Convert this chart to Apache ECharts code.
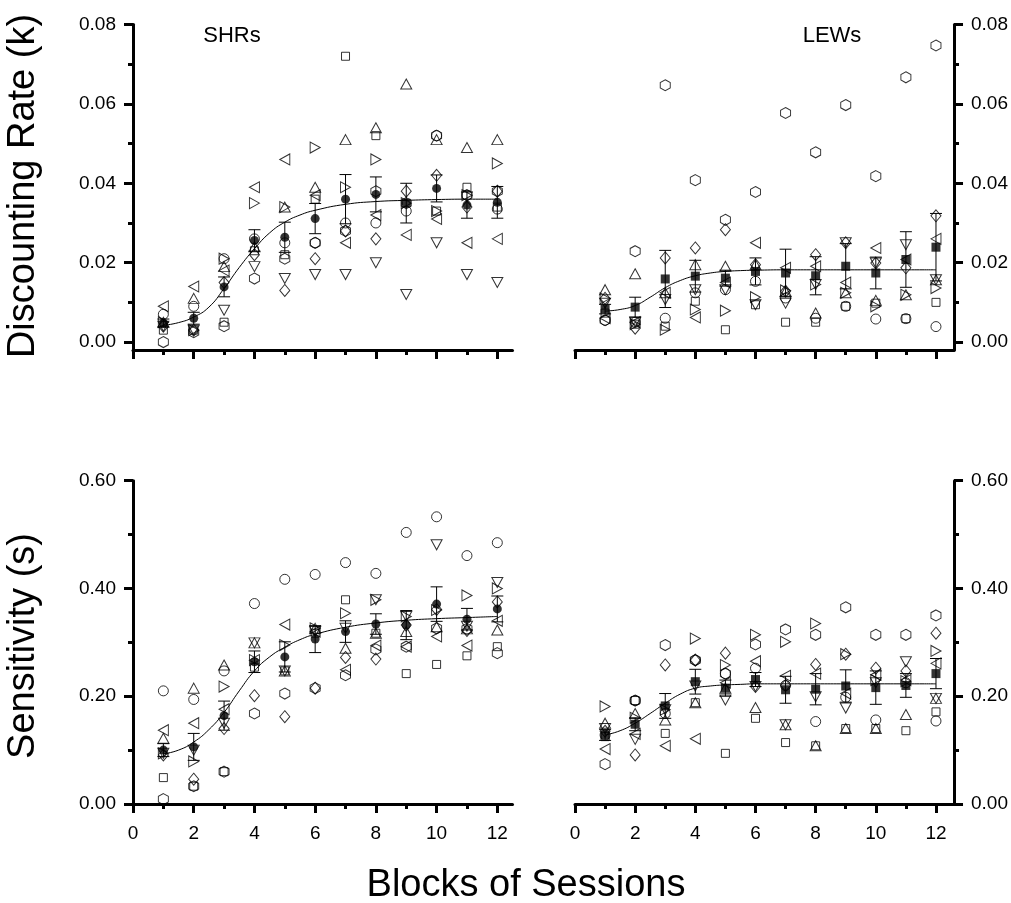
<!DOCTYPE html>
<html>
<head>
<meta charset="utf-8">
<script src="https://cdn.jsdelivr.net/npm/echarts@6/dist/echarts.min.js"></script>
<style>
  html, body { margin: 0; padding: 0; background: #fff; }
  #chart { width: 1011px; height: 903px; }
</style>
</head>
<body>
<div id="chart"></div>
<script>
const BLOCKS = [1, 2, 3, 4, 5, 6, 7, 8, 9, 10, 11, 12];
const FIT_X = [1, 1.5, 2, 2.5, 3, 3.5, 4, 4.5, 5, 5.5, 6, 7, 8, 9, 10, 11, 12];

// one row per rat, symbol order: circle, square, up, down, diamond, left, right, hexagon
const SHR_K_RATS = [
  [0.007, 0.009, 0.021, 0.026, 0.025, 0.025, 0.030, 0.030, 0.033, 0.052, 0.037, 0.0335],
  [0.003, 0.003, 0.005, 0.023, 0.022, 0.036, 0.072, 0.052, 0.035, 0.033, 0.039, 0.034],
  [0.005, 0.011, 0.019, 0.024, 0.034, 0.039, 0.051, 0.054, 0.065, 0.051, 0.049, 0.051],
  [0.004, 0.003, 0.008, 0.019, 0.016, 0.017, 0.017, 0.020, 0.012, 0.025, 0.017, 0.015],
  [0.004, 0.003, 0.015, 0.022, 0.013, 0.021, 0.028, 0.026, 0.038, 0.042, 0.034, 0.038],
  [0.009, 0.014, 0.018, 0.039, 0.046, 0.037, 0.025, 0.032, 0.027, 0.031, 0.025, 0.026],
  [0.005, 0.003, 0.021, 0.035, 0.034, 0.049, 0.039, 0.046, 0.035, 0.033, 0.037, 0.045],
  [0.000, 0.0025, 0.004, 0.016, 0.021, 0.025, 0.028, 0.038, 0.035, 0.052, 0.037, 0.038]
];
const SHR_K_MEAN = [0.0048, 0.006, 0.0139, 0.0256, 0.0264, 0.0311, 0.036, 0.0372, 0.035, 0.0387, 0.0345, 0.0352];
const SHR_K_SEM = [0.001, 0.0015, 0.0025, 0.0027, 0.0038, 0.0038, 0.0062, 0.0044, 0.005, 0.0034, 0.0033, 0.004];
const SHR_K_FIT = [0.0042, 0.0049, 0.0063, 0.0088, 0.0135, 0.0188, 0.0235, 0.0275, 0.0302, 0.032, 0.0332, 0.0347, 0.0354, 0.0357, 0.0359, 0.036, 0.036];

const LEW_K_RATS = [
  [0.0055, 0.005, 0.006, 0.0124, 0.0132, 0.0153, 0.0111, 0.006, 0.009, 0.0058, 0.0059, 0.0039],
  [0.0073, 0.0045, 0.004, 0.0103, 0.0031, 0.0094, 0.005, 0.005, 0.009, 0.0098, 0.0059, 0.010],
  [0.0132, 0.0172, 0.0124, 0.0195, 0.0191, 0.0195, 0.0128, 0.0073, 0.0124, 0.0105, 0.0119, 0.0157],
  [0.0098, 0.005, 0.0107, 0.0132, 0.0132, 0.0094, 0.0098, 0.0145, 0.025, 0.0199, 0.0245, 0.0157],
  [0.011, 0.0035, 0.0212, 0.0237, 0.0283, 0.0195, 0.0128, 0.022, 0.025, 0.0199, 0.0187, 0.0318],
  [0.006, 0.005, 0.0124, 0.0062, 0.015, 0.025, 0.0187, 0.0191, 0.015, 0.0237, 0.0208, 0.026],
  [0.011, 0.0045, 0.0031, 0.0082, 0.0079, 0.0113, 0.013, 0.0145, 0.0124, 0.009, 0.0119, 0.0136],
  [0.0055, 0.0229, 0.0647, 0.0408, 0.0308, 0.0378, 0.0577, 0.0478, 0.0597, 0.0418, 0.0667, 0.0747]
];
const LEW_K_MEAN = [0.0083, 0.0088, 0.0159, 0.0166, 0.0161, 0.0178, 0.0174, 0.0167, 0.0191, 0.0174, 0.0208, 0.0239];
const LEW_K_SEM = [0.0012, 0.0025, 0.0072, 0.004, 0.002, 0.0034, 0.006, 0.0048, 0.0057, 0.004, 0.007, 0.0085];
const LEW_K_FIT = [0.0078, 0.0082, 0.0092, 0.0113, 0.0137, 0.0155, 0.0167, 0.0174, 0.0178, 0.018, 0.0181, 0.0182, 0.0182, 0.0182, 0.0182, 0.0182, 0.0182];

const SHR_S_RATS = [
  [0.210, 0.194, 0.247, 0.372, 0.417, 0.426, 0.448, 0.428, 0.504, 0.533, 0.461, 0.485],
  [0.049, 0.033, 0.060, 0.254, 0.247, 0.317, 0.379, 0.317, 0.242, 0.259, 0.275, 0.292],
  [0.122, 0.215, 0.258, 0.299, 0.247, 0.326, 0.289, 0.317, 0.320, 0.329, 0.325, 0.323],
  [0.094, 0.100, 0.150, 0.299, 0.247, 0.320, 0.326, 0.379, 0.348, 0.481, 0.330, 0.411],
  [0.091, 0.046, 0.140, 0.201, 0.162, 0.215, 0.272, 0.269, 0.332, 0.361, 0.322, 0.375],
  [0.137, 0.150, 0.176, 0.267, 0.333, 0.320, 0.249, 0.294, 0.292, 0.311, 0.294, 0.340],
  [0.094, 0.079, 0.218, 0.267, 0.295, 0.326, 0.354, 0.379, 0.348, 0.360, 0.387, 0.400],
  [0.009, 0.033, 0.060, 0.168, 0.205, 0.215, 0.239, 0.287, 0.292, 0.326, 0.325, 0.280]
];
const SHR_S_MEAN = [0.100, 0.106, 0.164, 0.264, 0.273, 0.306, 0.320, 0.334, 0.332, 0.371, 0.343, 0.362];
const SHR_S_SEM = [0.012, 0.025, 0.027, 0.020, 0.028, 0.025, 0.020, 0.019, 0.027, 0.032, 0.020, 0.024];
const SHR_S_FIT = [0.093, 0.100, 0.115, 0.138, 0.170, 0.210, 0.247, 0.273, 0.291, 0.305, 0.315, 0.328, 0.336, 0.341, 0.344, 0.346, 0.348];

const LEW_S_RATS = [
  [0.128, 0.192, 0.168, 0.267, 0.242, 0.252, 0.220, 0.153, 0.198, 0.156, 0.225, 0.154],
  [0.125, 0.192, 0.131, 0.188, 0.094, 0.159, 0.114, 0.108, 0.140, 0.140, 0.136, 0.171],
  [0.150, 0.168, 0.156, 0.188, 0.215, 0.179, 0.147, 0.108, 0.140, 0.140, 0.166, 0.196],
  [0.140, 0.120, 0.175, 0.219, 0.193, 0.218, 0.147, 0.199, 0.178, 0.225, 0.264, 0.196],
  [0.135, 0.091, 0.258, 0.267, 0.280, 0.218, 0.220, 0.259, 0.278, 0.252, 0.247, 0.317],
  [0.102, 0.130, 0.108, 0.121, 0.225, 0.265, 0.238, 0.242, 0.205, 0.240, 0.230, 0.261],
  [0.181, 0.160, 0.175, 0.307, 0.258, 0.314, 0.301, 0.335, 0.278, 0.230, 0.228, 0.284],
  [0.074, 0.192, 0.295, 0.267, 0.242, 0.296, 0.324, 0.314, 0.365, 0.314, 0.314, 0.350]
];
const LEW_S_MEAN = [0.128, 0.148, 0.182, 0.227, 0.215, 0.231, 0.212, 0.213, 0.219, 0.216, 0.220, 0.242];
const LEW_S_SEM = [0.010, 0.012, 0.023, 0.023, 0.015, 0.013, 0.025, 0.029, 0.030, 0.031, 0.022, 0.028];
const LEW_S_FIT = [0.128, 0.136, 0.150, 0.168, 0.187, 0.204, 0.215, 0.219, 0.221, 0.222, 0.223, 0.223, 0.223, 0.223, 0.223, 0.223, 0.223];

const X_MAJOR = [0, 2, 4, 6, 8, 10, 12];
const X_MINOR = [1, 3, 5, 7, 9, 11];
const K_MAJOR = [0, 0.02, 0.04, 0.06, 0.08];
const K_MINOR = [0.01, 0.03, 0.05, 0.07];
const S_MAJOR = [0, 0.2, 0.4, 0.6];
const S_MINOR = [0.1, 0.3, 0.5];

const FONT = 'Liberation Sans, Arial, sans-serif';
const HEX = 'path://M5 0L10 2.89L10 8.66L5 11.55L0 8.66L0 2.89Z';
const RAT_SYMBOLS = [
  { symbol: 'circle', size: 10, rotate: 0 },
  { symbol: 'rect', size: 8, rotate: 0 },
  { symbol: 'triangle', size: [11, 10], rotate: 0 },
  { symbol: 'triangle', size: [11, 10], rotate: 180 },
  { symbol: 'diamond', size: [10, 12], rotate: 0 },
  { symbol: 'triangle', size: [11, 10], rotate: 90 },
  { symbol: 'triangle', size: [11, 10], rotate: -90 },
  { symbol: HEX, size: [10, 11], rotate: 0 }
];

const chart = echarts.init(document.getElementById('chart'));

const grids = [
  { left: 133, top: 24.5, width: 379.5, height: 325.5 },
  { left: 575, top: 24.5, width: 380, height: 325.5 },
  { left: 133, top: 480.7, width: 379.5, height: 323.3 },
  { left: 575, top: 480.7, width: 380, height: 323.3 }
];

const axisLine = { show: true, onZero: false, lineStyle: { color: '#000', width: 3 } };
const noLine = { show: false, onZero: false };
const labelStyle = { color: '#000', fontSize: 19, fontFamily: FONT };

const xAxes = [];
const yAxes = [];
function addAxes(grid, xMax, showXLabels, yMin, yMax, major, minor, side) {
  xAxes.push({
    type: 'value', gridIndex: grid, min: 0, max: xMax, position: 'bottom',
    axisLine: axisLine,
    axisTick: { customValues: X_MAJOR, length: 9, lineStyle: { width: 3, color: '#000' } },
    axisLabel: Object.assign({ show: showXLabels, customValues: X_MAJOR, margin: 20 }, labelStyle),
    splitLine: { show: false }
  });
  xAxes.push({
    type: 'value', gridIndex: grid, min: 0, max: xMax, position: 'bottom',
    axisLine: noLine,
    axisTick: { customValues: X_MINOR, length: 5, lineStyle: { width: 3, color: '#000' } },
    axisLabel: { show: false },
    splitLine: { show: false }
  });
  yAxes.push({
    type: 'value', gridIndex: grid, min: yMin, max: yMax, position: side,
    axisLine: axisLine,
    axisTick: { customValues: major, length: 9, lineStyle: { width: 3, color: '#000' } },
    axisLabel: Object.assign({ customValues: major, margin: 17, formatter: v => v.toFixed(2) }, labelStyle),
    splitLine: { show: false }
  });
  yAxes.push({
    type: 'value', gridIndex: grid, min: yMin, max: yMax, position: side,
    axisLine: noLine,
    axisTick: { customValues: minor, length: 5, lineStyle: { width: 3, color: '#000' } },
    axisLabel: { show: false },
    splitLine: { show: false }
  });
}
addAxes(0, 12.5, false, -0.002, 0.08, K_MAJOR, K_MINOR, 'left');
addAxes(1, 12.6, false, -0.002, 0.08, K_MAJOR, K_MINOR, 'right');
addAxes(2, 12.5, true, 0, 0.6, S_MAJOR, S_MINOR, 'left');
addAxes(3, 12.6, true, 0, 0.6, S_MAJOR, S_MINOR, 'right');

function errorBars(panel, mean, sem) {
  return {
    type: 'custom', xAxisIndex: panel * 2, yAxisIndex: panel * 2, z: 4,
    data: BLOCKS.map((b, i) => [b, mean[i], sem[i]]),
    renderItem: (params, api) => {
      const x = api.value(0), m = api.value(1), e = api.value(2);
      const top = api.coord([x, m + e]);
      const bot = api.coord([x, m - e]);
      const st = { stroke: '#000', lineWidth: 1 };
      const h = 6;
      return {
        type: 'group',
        children: [
          { type: 'line', shape: { x1: top[0], y1: top[1], x2: bot[0], y2: bot[1] }, style: st },
          { type: 'line', shape: { x1: top[0] - h, y1: top[1], x2: top[0] + h, y2: top[1] }, style: st },
          { type: 'line', shape: { x1: bot[0] - h, y1: bot[1], x2: bot[0] + h, y2: bot[1] }, style: st }
        ]
      };
    }
  };
}

function panelSeries(panel, rats, mean, sem, fit, meanSymbol) {
  const out = rats.map((vals, r) => ({
    type: 'scatter', xAxisIndex: panel * 2, yAxisIndex: panel * 2, z: 2,
    symbol: RAT_SYMBOLS[r].symbol,
    symbolSize: RAT_SYMBOLS[r].size,
    symbolRotate: RAT_SYMBOLS[r].rotate,
    itemStyle: { color: 'rgba(0,0,0,0)', borderColor: '#000', borderWidth: 1 },
    emphasis: { disabled: true },
    data: BLOCKS.map((b, i) => [b, vals[i]])
  }));
  out.push({
    type: 'line', xAxisIndex: panel * 2, yAxisIndex: panel * 2, z: 3,
    smooth: true, showSymbol: false, symbol: 'none',
    lineStyle: { color: '#000', width: 1 },
    data: FIT_X.map((x, i) => [x, fit[i]])
  });
  out.push(errorBars(panel, mean, sem));
  out.push({
    type: 'scatter', xAxisIndex: panel * 2, yAxisIndex: panel * 2, z: 5,
    symbol: meanSymbol, symbolSize: 9,
    itemStyle: { color: '#000' },
    emphasis: { disabled: true },
    data: BLOCKS.map((b, i) => [b, mean[i]])
  });
  return out;
}

const series = [].concat(
  panelSeries(0, SHR_K_RATS, SHR_K_MEAN, SHR_K_SEM, SHR_K_FIT, 'circle'),
  panelSeries(1, LEW_K_RATS, LEW_K_MEAN, LEW_K_SEM, LEW_K_FIT, 'rect'),
  panelSeries(2, SHR_S_RATS, SHR_S_MEAN, SHR_S_SEM, SHR_S_FIT, 'circle'),
  panelSeries(3, LEW_S_RATS, LEW_S_MEAN, LEW_S_SEM, LEW_S_FIT, 'rect')
);

function text(str, x, y, size, rotation) {
  return {
    type: 'text', x: x, y: y, rotation: rotation || 0,
    style: {
      text: str, fill: '#000', font: size + 'px ' + FONT,
      textAlign: 'center', textVerticalAlign: 'middle',
      align: 'center', verticalAlign: 'middle'
    }
  };
}

chart.setOption({
  animation: false,
  backgroundColor: '#fff',
  grid: grids,
  xAxis: xAxes,
  yAxis: yAxes,
  series: series,
  graphic: [
    text('SHRs', 232, 36, 22),
    text('LEWs', 832, 36, 22),
    text('Discounting Rate (k)', 24, 186, 38, Math.PI / 2),
    text('Sensitivity (s)', 24, 646, 38, Math.PI / 2),
    text('Blocks of Sessions', 526, 886, 38)
  ]
});
</script>
</body>
</html>
